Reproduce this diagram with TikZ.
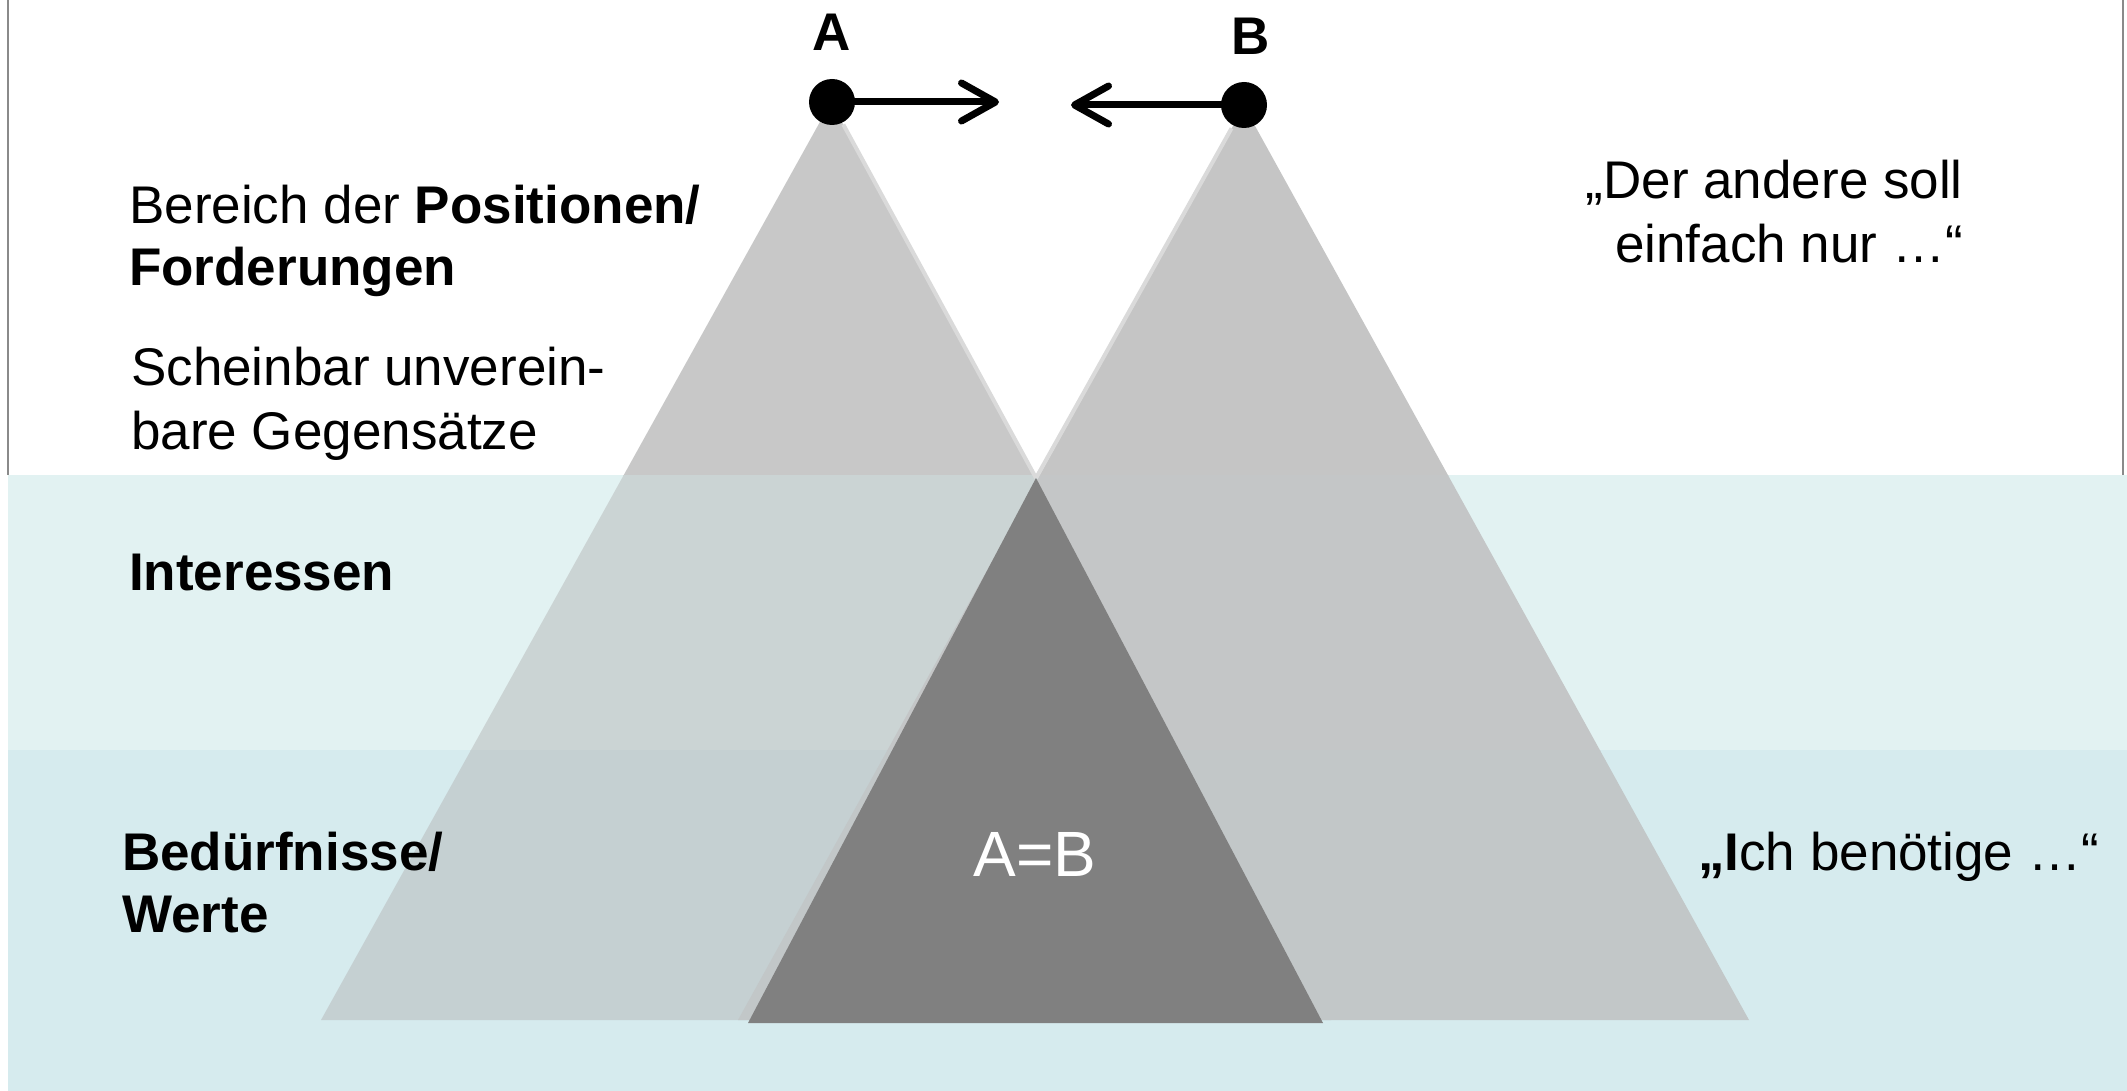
\documentclass[tikz,border=0pt]{standalone}
\usepackage{fontspec}
\setmainfont{Liberation Sans}
\usetikzlibrary{arrows.meta,calc}

\definecolor{bandOne}{RGB}{226,242,242}
\definecolor{bandTwo}{RGB}{214,235,238}
\definecolor{aTop}{RGB}{200,200,200}
\definecolor{aMid}{RGB}{203,212,212}
\definecolor{aLow}{RGB}{197,208,210}
\definecolor{bTop}{RGB}{197,197,197}
\definecolor{bMid}{RGB}{196,198,199}
\definecolor{bLow}{RGB}{194,199,200}
\definecolor{common}{RGB}{128,128,128}
\definecolor{edgeLight}{RGB}{218,218,218}
\definecolor{frameGray}{RGB}{138,138,138}

\tikzset{
  label text/.style={inner sep=0pt, font=\fontsize{53}{61}\selectfont},
  dotnode/.style={circle, fill=black, minimum size=46pt, inner sep=0pt},
  pusharrow/.style={line width=7pt, line cap=round,
    -{Straight Barb[length=34pt, width=38pt, round]}},
}

\begin{document}
\begin{tikzpicture}[x=1pt, y=-1pt]
  \useasboundingbox (0,0) rectangle (2127,1091);
  \fill[white] (0,0) rectangle (2127,1091);

  % horizontal layers
  \fill[bandOne] (8,475) rectangle (2127,750);
  \fill[bandTwo] (8,750) rectangle (2127,1091);

  % corner points of the two pyramids and their common part
  \coordinate (pa) at (831,102);
  \coordinate (pal) at (321,1020);
  \coordinate (par) at (1331,1020);
  \coordinate (pb) at (1244,106);
  \coordinate (pbl) at (738,1020);
  \coordinate (pbr) at (1749,1020);
  \coordinate (pc) at (1036,478);
  \coordinate (pcl) at (748,1023);
  \coordinate (pcr) at (1323,1023);

  % pyramids A and B, tinted per layer
  \begin{scope}
    \clip (0,0) rectangle (2127,475);
    \fill[aTop] (pa) -- (pal) -- (par) -- cycle;
    \fill[bTop] (pb) -- (pbl) -- (pbr) -- cycle;
  \end{scope}
  \begin{scope}
    \clip (0,475) rectangle (2127,750);
    \fill[aMid] (pa) -- (pal) -- (par) -- cycle;
    \fill[bMid] (pb) -- (pbl) -- (pbr) -- cycle;
  \end{scope}
  \begin{scope}
    \clip (0,750) rectangle (2127,1091);
    \fill[aLow] (pa) -- (pal) -- (par) -- cycle;
    \fill[bLow] (pb) -- (pbl) -- (pbr) -- cycle;
  \end{scope}

  % light rims on the inner upper edges
  \draw[edgeLight, line width=4pt] ($(pa)!0.06!(pc)$) -- (pc);
  \draw[edgeLight, line width=4pt] ($(pb)!0.06!(pc)$) -- (pc);

  % shared ground of A and B
  \fill[common] (pc) -- (pcl) -- (pcr) -- cycle;
  \node[inner sep=0pt, anchor=base, text=white,
        font=\fontsize{64}{72}\selectfont] (same) at (1035,876) {A=B};

  % side rules of the upper area
  \draw[frameGray, line width=2pt] (8,0) -- (8,475);
  \draw[frameGray, line width=2pt] (2123,0) -- (2123,475);

  % the two parties and their pushing arrows
  \node[dotnode] (dotA) at (832,102) {};
  \node[dotnode] (dotB) at (1244,105) {};
  \coordinate (tipA) at (999,102);
  \coordinate (tipB) at (1071,105);
  \draw[pusharrow] (dotA.center) -- (tipA);
  \draw[pusharrow] (dotB.center) -- (tipB);
  \node[label text, anchor=base, font=\fontsize{53}{61}\selectfont\bfseries] (nameA) at (832,51) {A};
  \node[label text, anchor=base, font=\fontsize{53}{61}\selectfont\bfseries] (nameB) at (1251,55) {B};

  % left column
  \node[label text, anchor=base west] (pos1) at (129,224) {Bereich der \textbf{Positionen/}};
  \node[label text, anchor=base west] (pos2) at (129,286) {\textbf{Forderungen}};
  \node[label text, anchor=base west] (gap1) at (131,385) {Scheinbar unverein-};
  \node[label text, anchor=base west] (gap2) at (131,449) {bare Gegensätze};
  \node[label text, anchor=base west] (intr) at (129,590) {\textbf{Interessen}};
  \node[label text, anchor=base west] (need1) at (122,870) {\textbf{Bedürfnisse/}};
  \node[label text, anchor=base west] (need2) at (122,932) {\textbf{Werte}};

  % right column
  \node[label text, anchor=base east] (say1) at (1963,199) {„Der andere soll};
  \node[label text, anchor=base east] (say2) at (1963,262) {einfach nur …“};
  \node[label text, anchor=base west] (say3) at (1698,870) {\textbf{„I}ch benötige …“};
\end{tikzpicture}
\end{document}
